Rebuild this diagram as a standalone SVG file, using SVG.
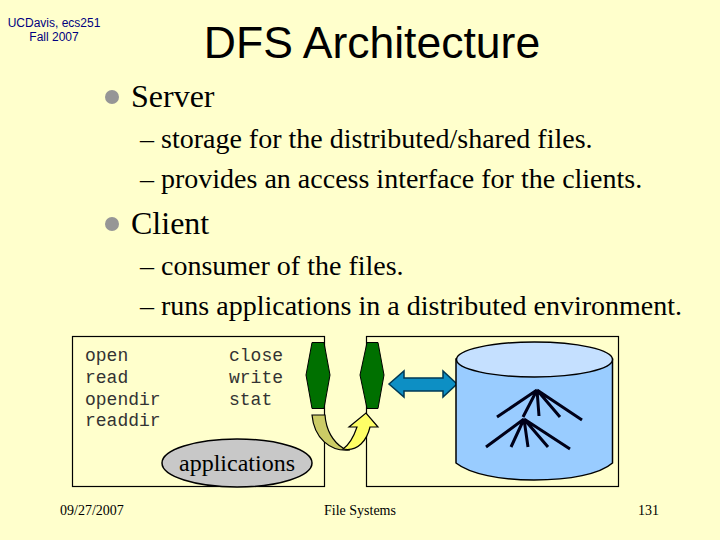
<svg xmlns="http://www.w3.org/2000/svg" width="720" height="540" viewBox="0 0 720 540">
<style>
.ser{font-family:"Liberation Serif",serif;fill:#000}
.b{font-size:32px}.s{font-size:28px}
.m{font-family:"Liberation Mono",monospace;font-size:18px;fill:#333;font-weight:300}
.h{font-family:"Liberation Sans",sans-serif;font-size:12px;fill:#000080;text-anchor:middle}
.f{font-family:"Liberation Serif",serif;font-size:14px;fill:#000}
.bx{fill:none;stroke:#000;stroke-width:1.2}
.gr{fill:#007000;stroke:#000;stroke-width:1}
.ln{stroke:#000018;stroke-width:3;fill:none}
</style>
<rect width="720" height="540" fill="#ffffcc"/>
<g id="header">
<text class="h" x="54" y="27">UCDavis, ecs251</text>
<text class="h" x="54" y="41">Fall 2007</text>
<text x="372" y="58" font-family="'Liberation Sans',sans-serif" font-size="44.500" text-anchor="middle" fill="#000">DFS Architecture</text>
</g>
<g id="bullets">
<circle cx="112" cy="97" r="7" fill="#969696"/>
<text class="ser b" x="131" y="107">Server</text>
<text class="ser s" x="140" y="148">– storage for the distributed/shared files.</text>
<text class="ser s" x="140" y="188">– provides an access interface for the clients.</text>
<circle cx="112" cy="224" r="7" fill="#969696"/>
<text class="ser b" x="131" y="234">Client</text>
<text class="ser s" x="140" y="275">– consumer of the files.</text>
<text class="ser s" x="140" y="315">– runs applications in a distributed environment.</text>
</g>
<g id="client-box">
<rect class="bx" x="72.500" y="336.500" width="252" height="150"/>
<text class="m" x="85" y="361">open</text>
<text class="m" x="85" y="383">read</text>
<text class="m" x="85" y="405">opendir</text>
<text class="m" x="85" y="426">readdir</text>
<text class="m" x="229" y="361">close</text>
<text class="m" x="229" y="383">write</text>
<text class="m" x="229" y="405">stat</text>
</g>
<g id="applications">
<ellipse cx="237" cy="463" rx="75" ry="24" fill="#c8c8c8" stroke="#000" stroke-width="1.500"/>
<text x="237" y="471" font-family="'Liberation Serif',serif" font-size="24" text-anchor="middle" fill="#000">applications</text>
</g>
<g id="server-box">
<rect class="bx" x="366.500" y="336.500" width="252" height="150"/>
</g>
<g id="stub-left"><polygon class="gr" points="312,342.500 324,342.500 330,375 324,408.500 312,408.500 306,375"/></g>
<g id="stub-right"><polygon class="gr" points="367,342.500 378,342.500 384,375 378,408.500 367,408.500 360,375"/></g>
<g id="connectors">
<path d="M312 415H325C326 430 333 442 343 448L350 450C330 452 314 438 312 415Z" fill="#cccc66" stroke="#000" stroke-width="1.200"/>
<path d="M343 449C350 444 354 436 357 427H349L366 413L378 427H370C367 440 358 452 343 449Z" fill="#ffff66" stroke="#000" stroke-width="1.200"/>
<polygon points="389,384 404,371 404,378 443,378 443,371 457,384 443,397 443,391 404,391 404,397" fill="#0d8fc4" stroke="#003a55" stroke-width="1.500"/>
</g>
<g id="disk">
<path d="M456 359V463C470 474 500 480 534 480C570 480 600 474 612.500 463V359Z" fill="#99ccff" stroke="#000" stroke-width="1.500"/>
<ellipse cx="534.500" cy="359.500" rx="78" ry="17.500" fill="#c5e0ff" stroke="#000" stroke-width="1.500"/>
<path class="ln" d="M537 390L497 417M537 390L523 417M537 390L539 416M537 390L560 417M537 390L582 420"/>
<path class="ln" d="M524 419L486 447M524 419L511 447M524 419L528 447M524 419L548 447M524 419L570 449"/>
</g>
<g id="footer">
<text class="f" x="60" y="515">09/27/2007</text>
<text class="f" x="324" y="515">File Systems</text>
<text class="f" x="638" y="515">131</text>
</g>
</svg>
